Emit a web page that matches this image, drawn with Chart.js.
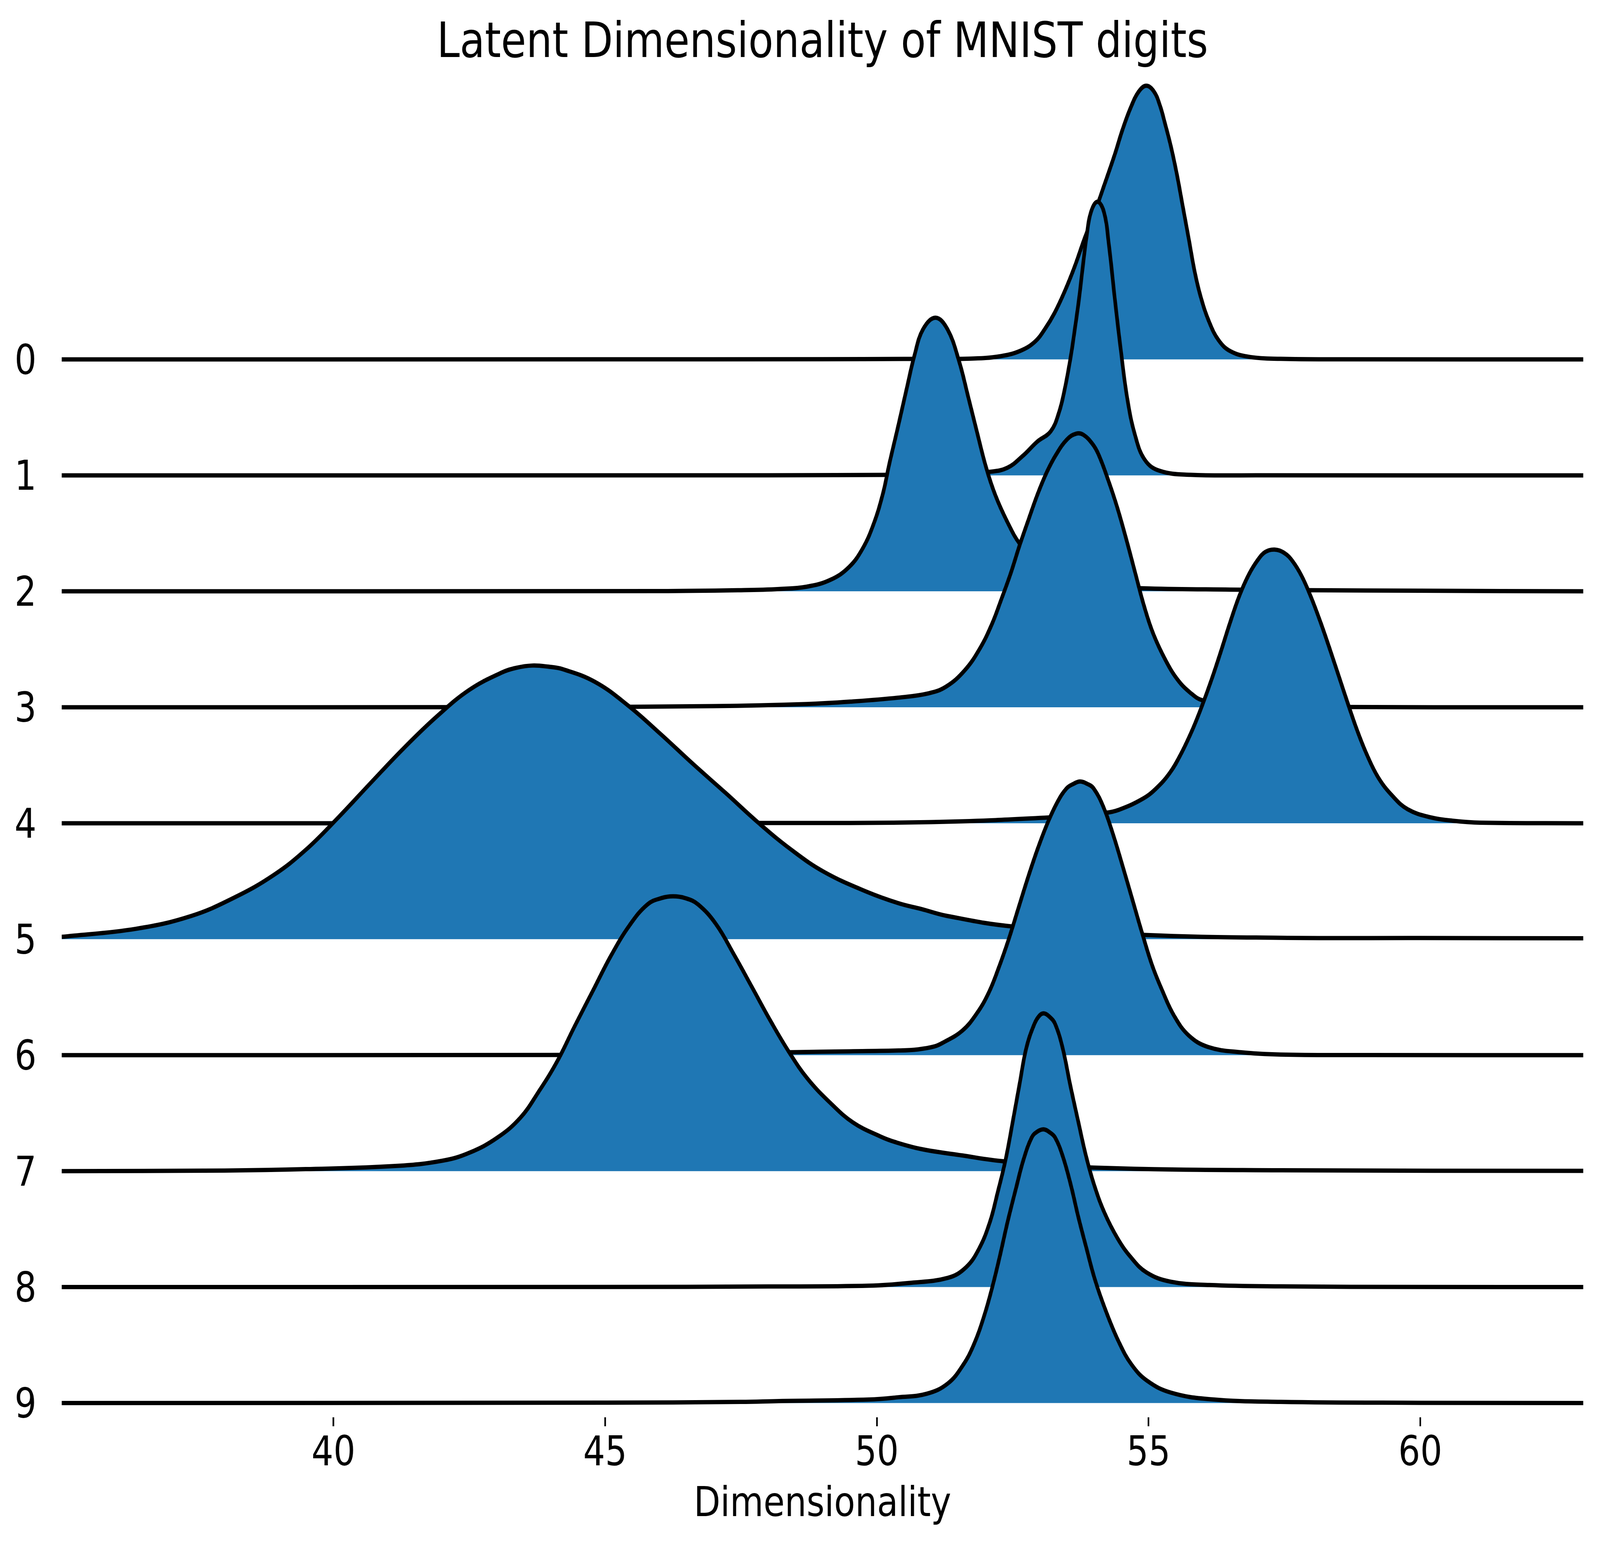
<!DOCTYPE html>
<html lang="en">
<head>
  <meta charset="UTF-8" />
  <title>Latent Dimensionality of MNIST digits</title>
  <script src="https://cdn.jsdelivr.net/npm/chart.js"></script>
  <style>
    html, body {
      margin: 0;
      padding: 0;
      background: #fff;
      overflow: hidden;
    }
    #ridgeCanvas {
      display: block;
      width: 100vw !important;
      height: 100vh !important;
    }
  </style>
</head>
<body>

  <!-- drawn at the figure's own 4874 x 3956 size, stretched to the window -->
  <canvas id="ridgeCanvas" width="4874" height="3956" style="width:100vw;height:100vh"></canvas>

  <script>
    const chartTitle = "Latent Dimensionality of MNIST digits";
    const xTitle = "Dimensionality";
    const rowLabels = ["0", "1", "2", "3", "4", "5", "6", "7", "8", "9"];
    const xTicks = [40, 45, 50, 55, 60];

    // density curves, heights in units of row spacing
    const xs0 = [35, 45, 49, 50.5, 51.73, 52.28, 52.65, 52.91, 53.09, 53.27, 53.46, 53.64, 53.82, 54.01, 54.19, 54.38, 54.52, 54.67, 54.82, 54.96, 55.1, 55.21, 55.3, 55.41, 55.52, 55.63, 55.74, 55.85, 55.96, 56.11, 56.29, 56.51, 56.88, 57.43, 58.5, 63];
    const hs0 = [0, 0.001, 0.002, 0.004, 0.007, 0.028, 0.076, 0.153, 0.26, 0.4, 0.59, 0.8, 1.04, 1.27, 1.51, 1.77, 1.98, 2.17, 2.31, 2.36, 2.31, 2.19, 2.04, 1.84, 1.6, 1.32, 1.04, 0.755, 0.54, 0.33, 0.165, 0.07, 0.02, 0.005, 0.001, 0];

    const xs1 = [35, 48, 50.5, 51.5, 52.06, 52.4, 52.69, 52.95, 53.2, 53.35, 53.46, 53.57, 53.64, 53.72, 53.79, 53.86, 53.94, 54.06, 54.18, 54.27, 54.38, 54.49, 54.61, 54.75, 54.93, 55.2, 55.77, 57, 63];
    const hs1 = [0, 0.001, 0.005, 0.012, 0.03, 0.065, 0.17, 0.29, 0.38, 0.54, 0.75, 1.03, 1.25, 1.52, 1.8, 2.06, 2.27, 2.36, 2.27, 1.99, 1.52, 1.08, 0.66, 0.35, 0.135, 0.04, 0.005, 0.001, 0];

    const xs2 = [35, 46, 47.5, 48.2, 48.71, 49.15, 49.49, 49.74, 49.94, 50.11, 50.23, 50.39, 50.55, 50.69, 50.85, 51.08, 51.3, 51.51, 51.68, 51.84, 52.01, 52.18, 52.4, 52.63, 53, 53.5, 54, 55, 56.5, 58, 60, 63];
    const hs2 = [0, 0.002, 0.01, 0.02, 0.04, 0.1, 0.21, 0.37, 0.58, 0.84, 1.1, 1.42, 1.75, 2.03, 2.26, 2.36, 2.26, 1.99, 1.68, 1.38, 1.07, 0.83, 0.6, 0.41, 0.22, 0.1, 0.05, 0.025, 0.015, 0.01, 0.005, 0];

    const xs3 = [35, 44, 47, 48.71, 49.55, 50.39, 50.95, 51.28, 51.62, 51.9, 52.12, 52.29, 52.46, 52.63, 52.8, 52.96, 53.13, 53.3, 53.5, 53.67, 53.8, 53.97, 54.08, 54.25, 54.42, 54.59, 54.76, 54.92, 55.09, 55.32, 55.54, 55.77, 55.99, 56.5, 57.5, 63];
    const hs3 = [0, 0.002, 0.01, 0.028, 0.05, 0.083, 0.12, 0.18, 0.32, 0.51, 0.72, 0.93, 1.15, 1.4, 1.63, 1.84, 2.03, 2.18, 2.31, 2.36, 2.35, 2.27, 2.18, 1.97, 1.73, 1.45, 1.15, 0.87, 0.63, 0.4, 0.235, 0.125, 0.06, 0.02, 0.004, 0];

    const xs4 = [35, 48, 51, 53.18, 54.21, 54.46, 54.89, 55.14, 55.4, 55.61, 55.82, 55.99, 56.16, 56.33, 56.5, 56.67, 56.84, 57.01, 57.15, 57.32, 57.5, 57.65, 57.82, 57.99, 58.16, 58.33, 58.5, 58.67, 58.84, 59.01, 59.22, 59.48, 59.77, 60.2, 60.63, 61.1, 63];
    const hs4 = [0, 0.002, 0.01, 0.05, 0.09, 0.117, 0.21, 0.3, 0.44, 0.61, 0.82, 1.02, 1.24, 1.48, 1.73, 1.96, 2.14, 2.27, 2.34, 2.36, 2.33, 2.26, 2.13, 1.95, 1.74, 1.51, 1.27, 1.03, 0.8, 0.6, 0.4, 0.24, 0.12, 0.05, 0.02, 0.005, 0];

    const xs5 = [35, 36.37, 37.38, 38.18, 38.89, 39.49, 40.09, 40.69, 41.3, 41.9, 42.5, 43.1, 43.36, 43.66, 43.96, 44.21, 44.81, 45.41, 46.02, 46.62, 47.22, 47.83, 48.43, 49.03, 49.81, 50.4, 50.82, 51.3, 52.49, 54.89, 57.43, 60, 63];
    const hs5 = [0.02, 0.09, 0.2, 0.36, 0.55, 0.77, 1.05, 1.35, 1.65, 1.92, 2.15, 2.3, 2.34, 2.36, 2.35, 2.33, 2.22, 2.02, 1.77, 1.51, 1.26, 1, 0.77, 0.58, 0.41, 0.31, 0.26, 0.2, 0.11, 0.037, 0.012, 0.01, 0.008];

    const xs6 = [35, 44, 47, 48.43, 49.5, 50.4, 50.76, 51.06, 51.21, 51.57, 51.84, 52.06, 52.24, 52.42, 52.6, 52.78, 52.96, 53.14, 53.32, 53.49, 53.62, 53.74, 53.87, 53.99, 54.17, 54.35, 54.53, 54.71, 54.89, 55.07, 55.25, 55.47, 55.74, 56.1, 56.69, 57.43, 59, 63];
    const hs6 = [0, 0.002, 0.01, 0.025, 0.033, 0.04, 0.05, 0.075, 0.106, 0.21, 0.36, 0.54, 0.75, 0.99, 1.26, 1.53, 1.78, 2, 2.18, 2.3, 2.34, 2.36, 2.34, 2.3, 2.14, 1.9, 1.62, 1.33, 1.04, 0.77, 0.56, 0.34, 0.17, 0.07, 0.025, 0.005, 0.001, 0];

    const xs7 = [35, 38, 39.49, 41.17, 42.01, 42.51, 43.02, 43.44, 43.77, 44.11, 44.44, 44.78, 45.11, 45.45, 45.78, 46.04, 46.25, 46.47, 46.71, 47.04, 47.38, 47.71, 48.05, 48.38, 48.72, 49.14, 49.56, 50.06, 50.34, 50.82, 51.57, 52.33, 54, 57.43, 63];
    const hs7 = [0, 0.005, 0.017, 0.045, 0.09, 0.16, 0.29, 0.46, 0.68, 0.94, 1.25, 1.56, 1.86, 2.12, 2.3, 2.355, 2.37, 2.355, 2.3, 2.13, 1.86, 1.58, 1.29, 1.03, 0.8, 0.59, 0.42, 0.3, 0.25, 0.19, 0.135, 0.085, 0.03, 0.007, 0.002];

    const xs8 = [35, 45, 48, 49.86, 50.58, 51.31, 51.64, 51.88, 52.08, 52.22, 52.37, 52.51, 52.63, 52.75, 52.9, 53, 53.08, 53.18, 53.28, 53.42, 53.56, 53.71, 53.85, 54, 54.19, 54.43, 54.67, 54.96, 55.4, 56.12, 57.43, 60, 63];
    const hs8 = [0, 0.001, 0.005, 0.012, 0.035, 0.08, 0.17, 0.33, 0.56, 0.81, 1.1, 1.45, 1.76, 2.06, 2.27, 2.345, 2.36, 2.33, 2.27, 2.06, 1.74, 1.42, 1.13, 0.88, 0.64, 0.42, 0.26, 0.127, 0.047, 0.018, 0.006, 0.001, 0];

    const xs9 = [35, 45, 47.5, 48.2, 49.86, 50.4, 50.92, 51.31, 51.59, 51.79, 51.98, 52.13, 52.27, 52.41, 52.56, 52.7, 52.85, 52.95, 53.07, 53.18, 53.28, 53.42, 53.57, 53.71, 53.86, 54.01, 54.21, 54.45, 54.69, 54.98, 55.41, 56.13, 57.43, 60, 63];
    const hs9 = [0, 0.003, 0.01, 0.017, 0.03, 0.05, 0.08, 0.17, 0.33, 0.51, 0.76, 1.01, 1.28, 1.57, 1.85, 2.1, 2.29, 2.34, 2.36, 2.335, 2.29, 2.13, 1.88, 1.6, 1.33, 1.07, 0.8, 0.53, 0.33, 0.19, 0.09, 0.033, 0.01, 0.002, 0];

    const curveX = [xs0, xs1, xs2, xs3, xs4, xs5, xs6, xs7, xs8, xs9];
    const curveH = [hs0, hs1, hs2, hs3, hs4, hs5, hs6, hs7, hs8, hs9];

    const rowCount = rowLabels.length;

    // row i sits on baseline (9 - i); lower rows are drawn over upper ones
    const datasets = rowLabels.map((label, i) => {
      const base = rowCount - 1 - i;
      return {
        label: label,
        data: curveX[i].map((x, j) => ({ x: x, y: base + curveH[i][j] })),
        borderColor: "#000",
        borderWidth: 11,
        backgroundColor: "#1f77b4",
        fill: { value: base },
        pointRadius: 0,
        tension: 0.4,
        borderJoinStyle: "round",
        borderCapStyle: "butt",
        order: base
      };
    });

    // title centred over the plot area, not the whole canvas
    const titlePlugin = {
      id: "plotTitle",
      afterDraw(chart) {
        const { ctx, chartArea } = chart;
        ctx.save();
        ctx.font = '125px "DejaVu Sans"';
        ctx.fillStyle = "#000";
        ctx.textAlign = "center";
        ctx.textBaseline = "alphabetic";
        ctx.fillText(chartTitle, (chartArea.left + chartArea.right) / 2, 146);
        ctx.restore();
      }
    };

    Chart.defaults.font.family = '"DejaVu Sans", sans-serif';
    Chart.defaults.color = "#000";

    new Chart(document.getElementById("ridgeCanvas"), {
      type: "line",
      data: { datasets: datasets },
      plugins: [titlePlugin],
      options: {
        responsive: false,
        devicePixelRatio: 1,
        animation: false,
        layout: {
          padding: { top: 178, right: 51, bottom: 0, left: 0 }
        },
        plugins: {
          legend: { display: false },
          tooltip: { enabled: false }
        },
        scales: {
          x: {
            type: "linear",
            min: 35,
            max: 63,
            afterBuildTicks: scale => {
              scale.ticks = xTicks.map(v => ({ value: v }));
            },
            afterFit: scale => {
              scale.height = 327;
            },
            border: { display: false },
            grid: {
              display: true,
              drawOnChartArea: false,
              drawTicks: true,
              tickLength: 23,
              tickWidth: 5,
              tickColor: "#000",
              color: "#000"
            },
            ticks: {
              font: { size: 105 },
              padding: 10,
              maxRotation: 0,
              autoSkip: false
            },
            title: {
              display: true,
              text: xTitle,
              font: { size: 105 },
              padding: { top: 0, bottom: 38 }
            }
          },
          y: {
            type: "linear",
            min: -0.123,
            max: 11.5,
            afterBuildTicks: scale => {
              scale.ticks = rowLabels.map((l, i) => ({ value: rowCount - 1 - i }));
            },
            afterFit: scale => {
              scale.width = 188;
            },
            border: { display: false },
            grid: { display: false, drawTicks: false },
            ticks: {
              font: { size: 105 },
              padding: 77,
              labelOffset: 10,
              autoSkip: false,
              callback: value => rowLabels[rowCount - 1 - value]
            }
          }
        }
      }
    });
  </script>

</body>
</html>
